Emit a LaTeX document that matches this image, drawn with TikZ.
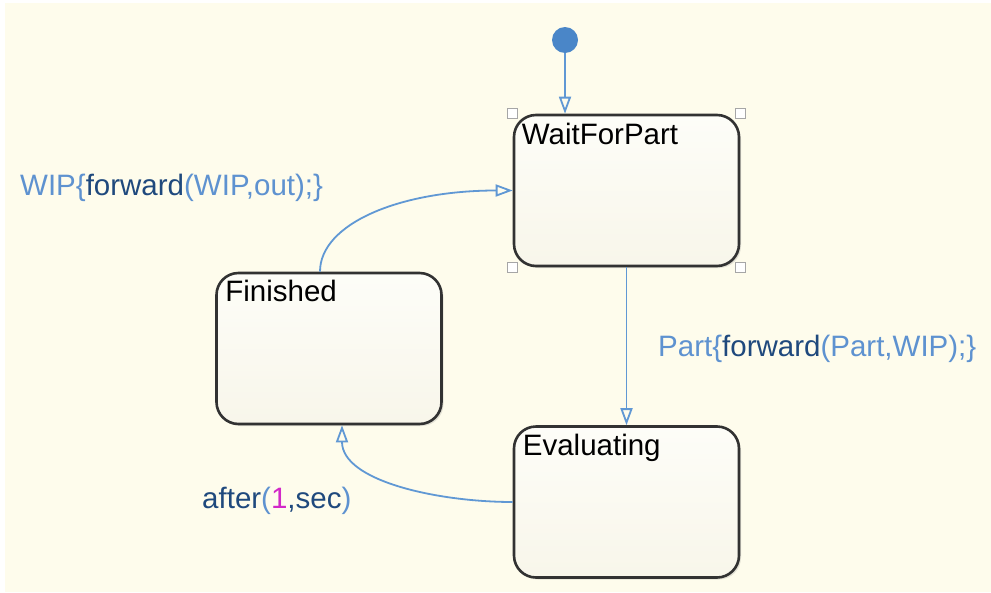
\documentclass[tikz,border=0pt]{standalone}
\usepackage{fontspec}
\setmainfont{Liberation Sans}
\usepackage{xcolor}
\usetikzlibrary{arrows.meta,shadows}
\definecolor{bgcream}{RGB}{254,252,236}
\definecolor{lightlbl}{RGB}{94,146,208}
\definecolor{darklbl}{RGB}{31,73,125}
\definecolor{numlbl}{RGB}{210,40,200}
\definecolor{trline}{RGB}{96,152,212}
\definecolor{dotblue}{RGB}{74,134,200}
\definecolor{stateedge}{RGB}{50,50,50}
\definecolor{statetop}{RGB}{253,253,248}
\definecolor{statebot}{RGB}{248,246,234}

\begin{document}
\begin{tikzpicture}[x=1pt,y=-1pt,
  every node/.style={font=\fontsize{29.5}{32}\selectfont},
  statebox/.style={rectangle,rounded corners=22pt,draw=stateedge,line width=2.6pt,
    top color=statetop,bottom color=statebot,
    minimum width=225pt,minimum height=151pt,inner sep=0pt,
    drop shadow={shadow xshift=2pt,shadow yshift=-2pt,opacity=0.22}},
  statename/.style={anchor=base west,inner sep=0pt,text=black},
  trans/.style={draw=trline,line width=1.8pt,-{Triangle[open,length=17pt,width=12pt]}},
  trlabel/.style={anchor=base west,inner sep=0pt,text=lightlbl},
  handle/.style={rectangle,draw=gray!70,fill=white,line width=1.2pt,minimum size=10pt,inner sep=0pt}]
\useasboundingbox (0,0) rectangle (991,592);
\fill[white] (0,0) rectangle (991,592);
\fill[bgcream] (5,3) rectangle (991,592);

\node[statebox] (wait) at (626.5,190.5) {};
\node[statebox] (fin) at (329,348.5) {};
\node[statebox] (eval) at (626.5,502) {};
\node[statename] (waitname) at ([shift={(9,31)}]wait.north west) {WaitForPart};
\node[statename] (finname) at ([shift={(10,30)}]fin.north west) {Finished};
\node[statename] (evalname) at ([shift={(10,30)}]eval.north west) {Evaluating};

\node[handle] (hnw) at (wait.north west) {};
\node[handle] (hne) at (wait.north east) {};
\node[handle] (hsw) at (wait.south west) {};
\node[handle] (hse) at (wait.south east) {};

\node[circle,fill=dotblue,minimum size=26pt,inner sep=0pt] (start) at (565,40) {};
\coordinate (waittop) at (start |- wait.north);
\draw[trans] (start) -- (waittop);

\draw[trans] (wait.south) -- (eval.north);
\draw[trans] ([xshift=-9pt]fin.north) .. controls +(0,-48) and +(-113,0) .. (wait.west);
\draw[trans] (eval.west) .. controls +(-74,0) and +(0,56) .. ([xshift=13pt]fin.south);

\node[trlabel] (wiplbl) at (20,195) {WIP\{\textcolor{darklbl}{forward}(WIP,out);\}};
\node[trlabel] (partlbl) at (658,356) {Part\{\textcolor{darklbl}{forward}(Part,WIP);\}};
\node[trlabel] (afterlbl) at (202,508) {\textcolor{darklbl}{after}(\textcolor{numlbl}{1}\textcolor{darklbl}{,sec})};
\end{tikzpicture}
\end{document}
